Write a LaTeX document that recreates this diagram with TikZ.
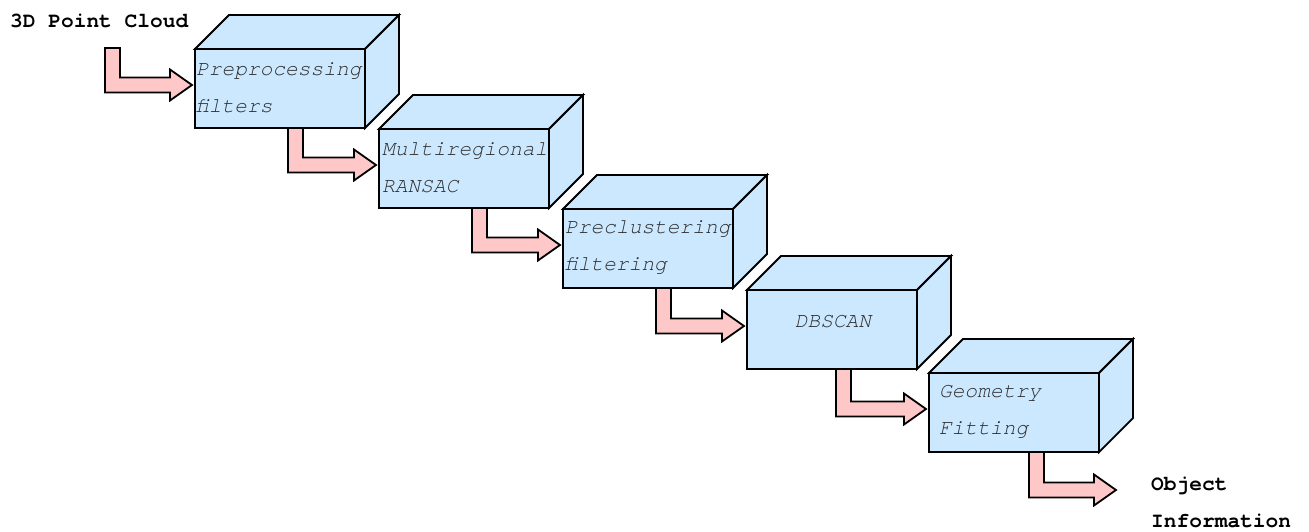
\documentclass[tikz,border=0pt]{standalone}
\usepackage{fontspec}
\setmonofont{TeX Gyre Cursor}
\usetikzlibrary{calc}
\definecolor{boxfill}{RGB}{204,232,255}
\definecolor{arrfill}{RGB}{255,200,200}
\definecolor{txtgray}{RGB}{45,45,45}
\tikzset{
  stage/.style={draw=black, line width=1.8pt, fill=boxfill, minimum width=170pt, minimum height=79pt, inner sep=0pt, outer sep=0pt, anchor=north west},
  face/.style={draw=black, line width=1.8pt, fill=boxfill, line join=miter},
  lbl/.style={font=\ttfamily\itshape\fontsize{21.2}{37}\selectfont, text=txtgray, align=left, inner sep=0pt},
  iolbl/.style={font=\ttfamily\bfseries\fontsize{21.2}{37}\selectfont, text=black, align=left, inner sep=0pt},
  barrow/.style={draw=black, line width=1.8pt, fill=arrfill, line join=miter}
}
\newcommand\cubefaces[1]{%
  \draw[face] (#1.north west) -- ++(34pt,34pt) -- ([shift={(34pt,34pt)}]#1.north east) -- (#1.north east) -- cycle;
  \draw[face] (#1.north east) -- ++(34pt,34pt) -- ([shift={(34pt,34pt)}]#1.south east) -- (#1.south east) -- cycle;
}
\newcommand\blockarrow[2]{%
  \draw[barrow] let \p1=(#1), \p2=(#2) in
    (\x1,\y1) -- (\x1+15pt,\y1) -- (\x1+15pt,\y2+7.5pt) -- (\x2-22pt,\y2+7.5pt)
    -- (\x2-22pt,\y2+15.5pt) -- (\x2,\y2) -- (\x2-22pt,\y2-15.5pt)
    -- (\x2-22pt,\y2-7.5pt) -- (\x1,\y2-7.5pt) -- cycle;
}
\begin{document}
\begin{tikzpicture}[x=1pt,y=-1pt]
\useasboundingbox (0,0) rectangle (1309,531);
% stages
\node[stage] (b1) at (195,49) {};
\node[stage] (b2) at (379,129) {};
\node[stage] (b3) at (563,209) {};
\node[stage] (b4) at (747,290) {};
\node[stage] (b5) at (929,373) {};
\foreach \b in {b1,b2,b3,b4,b5}{\cubefaces{\b}}
% labels inside
\node[lbl, anchor=west] (t1) at ([xshift=1pt,yshift=1pt]b1.west) {Preprocessing\\filters};
\node[lbl, anchor=west] (t2) at ([xshift=3pt,yshift=1pt]b2.west) {Multiregional\\RANSAC};
\node[lbl, anchor=west] (t3) at ([xshift=2pt,yshift=1pt]b3.west) {Preclustering\\filtering};
\node[lbl] (t4) at ([xshift=1pt,yshift=8pt]b4.center) {DBSCAN};
\node[lbl, anchor=west] (t5) at ([xshift=10pt,yshift=1pt]b5.west) {Geometry\\Fitting};
% io labels
\node[iolbl, anchor=base west] (in) at (10,27) {3D Point Cloud};
\node[iolbl, anchor=west] (out) at (1151,502) {Object\\Information};
% arrows
\coordinate (s1) at (105,48);
\blockarrow{s1}{[xshift=-3pt,yshift=-36pt]b1.north west}
\blockarrow{[xshift=93pt]b1.south west}{[xshift=-3pt,yshift=-36pt]b2.north west}
\blockarrow{[xshift=93pt]b2.south west}{[xshift=-3pt,yshift=-36pt]b3.north west}
\blockarrow{[xshift=93pt]b3.south west}{[xshift=-3pt,yshift=-36pt]b4.north west}
\blockarrow{[xshift=89pt]b4.south west}{[xshift=-3pt,yshift=-36pt]b5.north west}
\coordinate (e6) at (1116,490);
\blockarrow{[xshift=100pt]b5.south west}{e6}
\end{tikzpicture}
\end{document}
